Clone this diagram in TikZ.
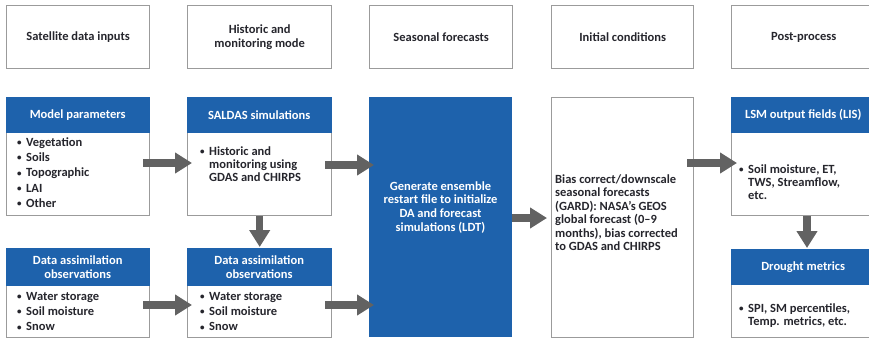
\documentclass[tikz,border=0pt]{standalone}
\usepackage{fontspec}
\setmainfont{Carlito}
\usetikzlibrary{arrows.meta}
\definecolor{hblue}{RGB}{30,98,172}
\definecolor{framegray}{RGB}{155,155,155}
\definecolor{arrowgray}{RGB}{98,98,98}
\definecolor{txtdark}{RGB}{38,38,45}
\tikzset{
  frame/.style={draw=framegray, line width=1.4pt, fill=white, inner sep=0pt, anchor=north west},
  hdr/.style={fill=hblue, inner sep=0pt, anchor=north west},
  ttl/.style={font=\bfseries\fontsize{12.5}{14}\selectfont, text=txtdark, align=center},
  htxt/.style={font=\bfseries\fontsize{12.5}{14}\selectfont, text=white, align=center, inner sep=0pt},
  ltxt/.style={font=\bfseries\fontsize{12.5}{14}\selectfont, text=txtdark, inner sep=0pt, anchor=base west},
  bul/.style={font=\bfseries\fontsize{9}{10}\selectfont, text=txtdark, inner sep=0pt, anchor=base west},
  bigarrow/.style={draw=arrowgray, line width=7.5pt, -{Triangle[length=17pt,width=20pt]}}
}
\newcommand{\bitem}[4]{\node[bul] (#1b) at (#2-9,#3-0.8) {\textbullet}; \node[ltxt] (#1) at (#2,#3) {#4};}
\newcommand{\litem}[4]{\node[ltxt] (#1) at (#2,#3) {#4};}
\begin{document}
\begin{tikzpicture}[x=1pt,y=-1pt]
\useasboundingbox (0,0) rectangle (869,340);
% top row
\node[frame, ttl, minimum width=143pt, minimum height=63pt] (t1) at (6,5) {Satellite data inputs};
\node[frame, ttl, minimum width=144pt, minimum height=63pt] (t2) at (187,5) {Historic and\\monitoring mode};
\node[frame, ttl, minimum width=143pt, minimum height=63pt] (t3) at (369,5) {Seasonal forecasts};
\node[frame, ttl, minimum width=142pt, minimum height=63pt] (t4) at (551,5) {Initial conditions};
\node[frame, ttl, minimum width=144pt, minimum height=63pt] (t5) at (731,5) {Post-process};
% frames row 2 / 3
\node[frame, minimum width=143pt, minimum height=118pt] (mp) at (6,97) {};
\node[frame, minimum width=144pt, minimum height=118pt] (sal) at (187,97) {};
\node[frame, minimum width=144pt, minimum height=118pt] (lsm) at (731,97) {};
\node[frame, minimum width=143pt, minimum height=89pt] (dal) at (6,248) {};
\node[frame, minimum width=144pt, minimum height=89pt] (dam) at (187,248) {};
\node[frame, minimum width=144pt, minimum height=88pt] (dr) at (731,249) {};
\node[frame, minimum width=142pt, minimum height=240pt] (ic) at (551,97) {};
\node[fill=hblue, inner sep=0pt, anchor=north west, minimum width=143pt, minimum height=240pt] (ldt) at (369,97) {};
% headers
\node[hdr, minimum width=144.4pt, minimum height=36.7pt] (mph) at (5.3,96.3) {};
\node[hdr, minimum width=145.4pt, minimum height=36.7pt] (salh) at (186.3,96.3) {};
\node[hdr, minimum width=145.4pt, minimum height=36.7pt] (lsmh) at (730.3,96.3) {};
\node[hdr, minimum width=144.4pt, minimum height=38.7pt] (dalh) at (5.3,247.3) {};
\node[hdr, minimum width=145.4pt, minimum height=38.7pt] (damh) at (186.3,247.3) {};
\node[hdr, minimum width=145.4pt, minimum height=36.7pt] (drh) at (730.3,248.3) {};
\node[htxt] (mpt) at (mph.center) {Model parameters};
\node[htxt] (salt) at (salh.center) {SALDAS simulations};
\node[htxt] (lsmt) at (lsmh.center) {LSM output fields (LIS)};
\node[htxt] (dalt) at (dalh.center) {Data assimilation\\observations};
\node[htxt] (damt) at (damh.center) {Data assimilation\\observations};
\node[htxt] (drt) at (drh.center) {Drought metrics};
% lists
\bitem{m1}{26}{146}{Vegetation}
\bitem{m2}{26}{161.4}{Soils}
\bitem{m3}{26}{176.8}{Topographic}
\bitem{m4}{26}{192.2}{LAI}
\bitem{m5}{26}{207.6}{Other}
\bitem{s1}{209}{155}{Historic and}
\litem{s2}{209}{168.3}{monitoring using}
\litem{s3}{209}{181.6}{GDAS and CHIRPS}
\bitem{dl1}{26}{300}{Water storage}
\bitem{dl2}{26}{315.4}{Soil moisture}
\bitem{dl3}{26}{330.8}{Snow}
\bitem{dm1}{209}{300}{Water storage}
\bitem{dm2}{209}{315.4}{Soil moisture}
\bitem{dm3}{209}{330.8}{Snow}
\bitem{l1}{748}{173}{Soil moisture, ET,}
\litem{l2}{748}{186.4}{TWS, Streamflow,}
\litem{l3}{748}{199.8}{etc.}
\bitem{d1}{748}{312}{SPI, SM percentiles,}
\litem{d2}{748}{325.4}{Temp. metrics, etc.}
\litem{i1}{555}{183.3}{Bias correct/downscale}
\litem{i2}{555}{196.8}{seasonal forecasts}
\litem{i3}{555}{210.3}{(GARD): NASA's GEOS}
\litem{i4}{555}{223.8}{global forecast (0--9}
\litem{i5}{555}{237.3}{months), bias corrected}
\litem{i6}{555}{250.8}{to GDAS and CHIRPS}
\node[htxt, font=\bfseries\fontsize{12.5}{13.9}\selectfont] (ldtt) at (440.5,207.5) {Generate ensemble\\restart file to initialize\\DA and forecast\\simulations (LDT)};
% arrows
\coordinate (ya1) at (0,163);
\coordinate (ya2) at (0,165);
\coordinate (ya3) at (0,305);
\coordinate (ya4) at (0,218);
\coordinate (xv2) at (807,0);
\draw[bigarrow, shorten <=-7pt, shorten >=-5pt] (mp.east |- ya1) -- (sal.west |- ya1);
\draw[bigarrow, shorten <=-7pt, shorten >=-5pt] (dal.east |- ya3) -- (dam.west |- ya3);
\draw[bigarrow, shorten <=-7pt, shorten >=-5pt] (sal.east |- ya2) -- (ldt.west |- ya2);
\draw[bigarrow, shorten <=-7pt, shorten >=-5pt] (dam.east |- ya3) -- (ldt.west |- ya3);
\draw[bigarrow, shorten >=4pt] (ldt.east |- ya4) -- (ic.west |- ya4);
\draw[bigarrow, shorten <=-7pt, shorten >=-6pt] (ic.east |- ya1) -- (lsm.west |- ya1);
\draw[bigarrow, shorten >=1pt] (sal.south) -- (dam.north);
\draw[bigarrow, shorten >=1pt] (xv2 |- lsm.south) -- (xv2 |- dr.north);
\end{tikzpicture}
\end{document}
